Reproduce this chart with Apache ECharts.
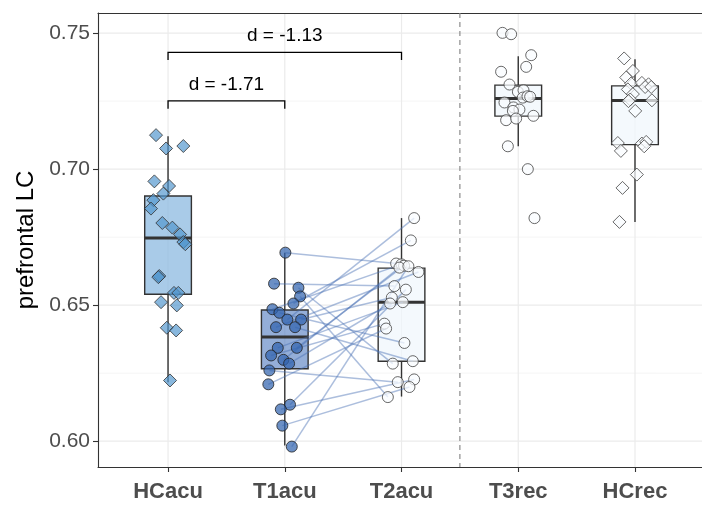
<!DOCTYPE html>
<html>
<head>
<meta charset="utf-8">
<script src="https://cdn.jsdelivr.net/npm/echarts@6/dist/echarts.min.js"></script>
<style>
  html, body { margin: 0; padding: 0; background: #fff; }
  #chart { width: 702px; height: 508px; }
</style>
</head>
<body>
<div id="chart"></div>
<script>
// categories and tick labels
const groups = ['HCacu', 'T1acu', 'T2acu', 'T3rec', 'HCrec'];
const yTicks = [0.60, 0.65, 0.70, 0.75];
const yMinor = [0.625, 0.675, 0.725];

// box stats
const boxMin = [0.6217, 0.5984, 0.6164, 0.7084, 0.6806];
const boxQ1  = [0.6540, 0.6266, 0.6294, 0.7195, 0.7090];
const boxMed = [0.6747, 0.6383, 0.6511, 0.7260, 0.7252];
const boxQ3  = [0.6901, 0.6482, 0.6636, 0.7309, 0.7306];
const boxMax = [0.7121, 0.6693, 0.6820, 0.7415, 0.7404];

// points (value + horizontal jitter in category units)
const hcAcuVals = [0.7125, 0.7076, 0.7085, 0.6955, 0.6938, 0.6910, 0.6886, 0.6855, 0.6802, 0.6785, 0.6760,
  0.6732, 0.6724, 0.6607, 0.6603, 0.6545, 0.6545, 0.6511, 0.6499, 0.6417, 0.6407, 0.6223];
const hcAcuJit = [-0.103, -0.017, 0.131, -0.117, 0.009, -0.040, -0.126, -0.146, -0.049, 0.037, 0.103,
  0.131, 0.148, -0.075, -0.083, 0.051, 0.088, -0.060, 0.075, -0.011, 0.069, 0.017];

const t1Vals = [0.6693, 0.6579, 0.6564, 0.6532, 0.6506, 0.6485, 0.6472, 0.6447, 0.6447, 0.6419, 0.6419,
  0.6343, 0.6343, 0.6315, 0.6299, 0.6285, 0.6260, 0.6209, 0.6134, 0.6117, 0.6057, 0.5980];
const t1Jit = [0.005, -0.092, 0.117, 0.131, 0.074, -0.106, -0.046, 0.022, 0.140, -0.075, 0.088,
  -0.060, 0.103, -0.117, -0.012, 0.037, -0.132, -0.141, 0.045, -0.034, -0.021, 0.060];

// T2 in the same subject order as T1 (paired)
const t2Vals = [0.6653, 0.6570, 0.6285, 0.6162, 0.6738, 0.6650, 0.6361, 0.6820, 0.6528, 0.6622, 0.6294,
  0.6511, 0.6645, 0.6432, 0.6638, 0.6506, 0.6217, 0.6414, 0.6557, 0.6227, 0.6199, 0.6643];
const t2Jit = [-0.046, -0.061, -0.075, -0.117, 0.080, -0.001, 0.025, 0.108, -0.083, 0.145, 0.097,
  0.011, 0.022, -0.147, -0.018, -0.098, -0.032, -0.132, 0.037, 0.108, 0.068, 0.059];

const t3Vals = [0.7501, 0.7496, 0.7419, 0.7376, 0.7358, 0.7311, 0.7284, 0.7290, 0.7263, 0.7268, 0.7266,
  0.7245, 0.7227, 0.7219, 0.7214, 0.7196, 0.7180, 0.7186, 0.7084, 0.7000, 0.6820];
const t3Jit = [-0.135, -0.061, 0.111, 0.068, -0.147, -0.075, -0.003, 0.045, 0.039, 0.079, 0.102,
  -0.118, -0.041, 0.010, -0.046, 0.130, -0.104, -0.018, -0.089, 0.082, 0.139];

const hcRecVals = [0.7407, 0.7361, 0.7337, 0.7315, 0.7317, 0.7312, 0.7302, 0.7302, 0.7293, 0.7276, 0.7256,
  0.7253, 0.7250, 0.7214, 0.7096, 0.7067, 0.7094, 0.7100, 0.7084, 0.6980, 0.6931, 0.6806];
const hcRecJit = [-0.093, -0.018, -0.075, -0.033, 0.059, 0.116, 0.087, 0.139, -0.061, -0.018, -0.041,
  0.145, -0.056, 0.002, -0.147, -0.121, 0.059, 0.096, 0.079, 0.016, -0.107, -0.133];

// effect size brackets
const brX1 = [1, 1];
const brX2 = [3, 2];
const brY = [0.7429, 0.7251];
const brTickY = [0.7401, 0.7222];
const brLabelY = [0.7490, 0.7309];
const brLabels = ['d = -1.13', 'd = -1.71'];

const FONT = 'Liberation Sans, Arial, Helvetica, sans-serif';
const X_MIN = 0.4, X_MAX = 5.574, Y_MIN = 0.5905, Y_MAX = 0.7574;

const boxFill = ['rgba(140,186,224,0.75)', 'rgba(90,130,195,0.65)', 'rgba(240,246,252,0.7)',
  'rgba(240,246,252,0.7)', 'rgba(240,246,252,0.7)'];

const pts = (pos, vals, jit) => vals.map((v, i) => [pos + jit[i], v]);

const chart = echarts.init(document.getElementById('chart'));

chart.setOption({
  animation: false,
  backgroundColor: '#fff',
  grid: { left: 98, right: 0, top: 13, bottom: 41 },
  xAxis: [{
    type: 'value', min: X_MIN, max: X_MAX,
    axisLine: { show: true, lineStyle: { color: '#333', width: 1.1 } },
    axisTick: { show: true, customValues: [1, 2, 3, 4, 5], length: 5, lineStyle: { color: '#333', width: 1.1 } },
    axisLabel: {
      customValues: [1, 2, 3, 4, 5],
      formatter: (v) => groups[Math.round(v) - 1] || '',
      fontFamily: FONT, fontSize: 22, fontWeight: 'bold', color: '#4d4d4d', margin: 14
    },
    splitLine: { show: false }
  }, {
    type: 'value', min: X_MIN, max: X_MAX, position: 'top',
    axisLine: { show: true, lineStyle: { color: '#333', width: 1.1 } },
    axisTick: { show: false }, axisLabel: { show: false }, splitLine: { show: false }
  }],
  yAxis: {
    type: 'value', min: Y_MIN, max: Y_MAX,
    name: 'prefrontal LC', nameLocation: 'middle', nameGap: 60, nameRotate: 90,
    nameTextStyle: { fontFamily: FONT, fontSize: 24, color: '#000' },
    axisLine: { show: true, lineStyle: { color: '#333', width: 1.1 } },
    axisTick: { show: true, customValues: yTicks, length: 5, lineStyle: { color: '#333', width: 1.1 } },
    axisLabel: {
      customValues: yTicks, formatter: (v) => v.toFixed(2),
      fontFamily: FONT, fontSize: 21, color: '#4d4d4d', margin: 8
    },
    splitLine: { show: false }
  },
  series: [
    // grid lines
    {
      type: 'custom', silent: true, z: 0,
      data: yTicks.map(v => [1, v, 1]).concat(yMinor.map(v => [1, v, 0])),
      renderItem: (params, api) => {
        const cs = params.coordSys;
        const y = api.coord([1, api.value(1)])[1];
        const major = api.value(2) === 1;
        return { type: 'line', shape: { x1: cs.x, y1: y, x2: cs.x + cs.width, y2: y },
          style: { stroke: major ? '#ebebeb' : '#f2f2f2', lineWidth: major ? 1.2 : 0.8 } };
      }
    },
    {
      type: 'custom', silent: true, z: 0,
      data: [1, 2, 3, 4, 5].map(v => [v, 0.7]),
      renderItem: (params, api) => {
        const cs = params.coordSys;
        const x = api.coord([api.value(0), 0.7])[0];
        return { type: 'line', shape: { x1: x, y1: cs.y, x2: x, y2: cs.y + cs.height },
          style: { stroke: '#ebebeb', lineWidth: 1.2 } };
      }
    },
    // dashed separator
    {
      type: 'custom', silent: true, z: 1,
      data: [[3.5, 0.7]],
      renderItem: (params, api) => {
        const cs = params.coordSys;
        const x = api.coord([api.value(0), 0.7])[0];
        return { type: 'line', shape: { x1: x, y1: cs.y, x2: x, y2: cs.y + cs.height },
          style: { stroke: '#8c8c8c', lineWidth: 1.2, lineDash: [5, 4] } };
      }
    },
    // boxplots
    {
      type: 'custom', silent: true, z: 2,
      data: groups.map((g, i) => [i + 1, boxMin[i], boxQ1[i], boxMed[i], boxQ3[i], boxMax[i]]),
      encode: { x: 0, y: [1, 5] },
      renderItem: (params, api) => {
        const x = api.value(0);
        const i = params.dataIndex;
        const top = api.coord([x, api.value(5)]);
        const bot = api.coord([x, api.value(1)]);
        const q3l = api.coord([x - 0.2, api.value(4)]);
        const q1r = api.coord([x + 0.2, api.value(2)]);
        const medl = api.coord([x - 0.2, api.value(3)]);
        const stroke = { stroke: '#333', lineWidth: 1.4 };
        return { type: 'group', children: [
          { type: 'line', shape: { x1: top[0], y1: top[1], x2: top[0], y2: q3l[1] }, style: stroke },
          { type: 'line', shape: { x1: bot[0], y1: q1r[1], x2: bot[0], y2: bot[1] }, style: stroke },
          { type: 'rect', shape: { x: q3l[0], y: q3l[1], width: q1r[0] - q3l[0], height: q1r[1] - q3l[1] },
            style: { fill: boxFill[i], stroke: '#333', lineWidth: 1.4 } },
          { type: 'line', shape: { x1: q3l[0], y1: medl[1], x2: q1r[0], y2: medl[1] },
            style: { stroke: '#333', lineWidth: 3 } }
        ] };
      }
    },
    // paired lines T1 -> T2
    {
      type: 'custom', silent: true, z: 3,
      data: t1Vals.map((v, i) => [2 + t1Jit[i], v, 3 + t2Jit[i], t2Vals[i]]),
      encode: { x: [0, 2], y: [1, 3] },
      renderItem: (params, api) => {
        const a = api.coord([api.value(0), api.value(1)]);
        const b = api.coord([api.value(2), api.value(3)]);
        return { type: 'line', shape: { x1: a[0], y1: a[1], x2: b[0], y2: b[1] },
          style: { stroke: 'rgba(70,110,180,0.45)', lineWidth: 1.5 } };
      }
    },
    // points
    {
      type: 'scatter', z: 4, symbol: 'diamond', symbolSize: 13,
      data: pts(1, hcAcuVals, hcAcuJit),
      itemStyle: { color: 'rgba(80,150,205,0.85)', borderColor: '#333', borderWidth: 1 }
    },
    {
      type: 'scatter', z: 4, symbol: 'circle', symbolSize: 11,
      data: pts(2, t1Vals, t1Jit),
      itemStyle: { color: 'rgba(50,100,175,0.9)', borderColor: '#222', borderWidth: 1 }
    },
    {
      type: 'scatter', z: 4, symbol: 'circle', symbolSize: 11,
      data: pts(3, t2Vals, t2Jit),
      itemStyle: { color: 'rgba(250,252,255,0.9)', borderColor: '#444', borderWidth: 1 }
    },
    {
      type: 'scatter', z: 4, symbol: 'circle', symbolSize: 11,
      data: pts(4, t3Vals, t3Jit),
      itemStyle: { color: 'rgba(250,252,255,0.9)', borderColor: '#444', borderWidth: 1 }
    },
    {
      type: 'scatter', z: 4, symbol: 'diamond', symbolSize: 13,
      data: pts(5, hcRecVals, hcRecJit),
      itemStyle: { color: 'rgba(250,252,255,0.9)', borderColor: '#444', borderWidth: 1 }
    },
    // effect size brackets
    {
      type: 'custom', silent: true, z: 5,
      data: brX1.map((x, i) => [x, brY[i], brX2[i], brTickY[i], brLabelY[i]]),
      encode: { x: [0, 2], y: [1, 3, 4] },
      renderItem: (params, api) => {
        const l = api.coord([api.value(0), api.value(1)]);
        const r = api.coord([api.value(2), api.value(1)]);
        const t = api.coord([api.value(0), api.value(3)]);
        const lab = api.coord([(api.value(0) + api.value(2)) / 2, api.value(4)]);
        return { type: 'group', children: [
          { type: 'polyline', shape: { points: [[l[0], t[1]], l, r, [r[0], t[1]]] },
            style: { stroke: '#000', lineWidth: 1.3, fill: 'none' } },
          { type: 'text', x: lab[0], y: lab[1],
            style: { text: brLabels[params.dataIndex], fontFamily: FONT, fontSize: 19, fill: '#000',
              align: 'center', verticalAlign: 'middle' } }
        ] };
      }
    }
  ]
});
</script>
</body>
</html>
